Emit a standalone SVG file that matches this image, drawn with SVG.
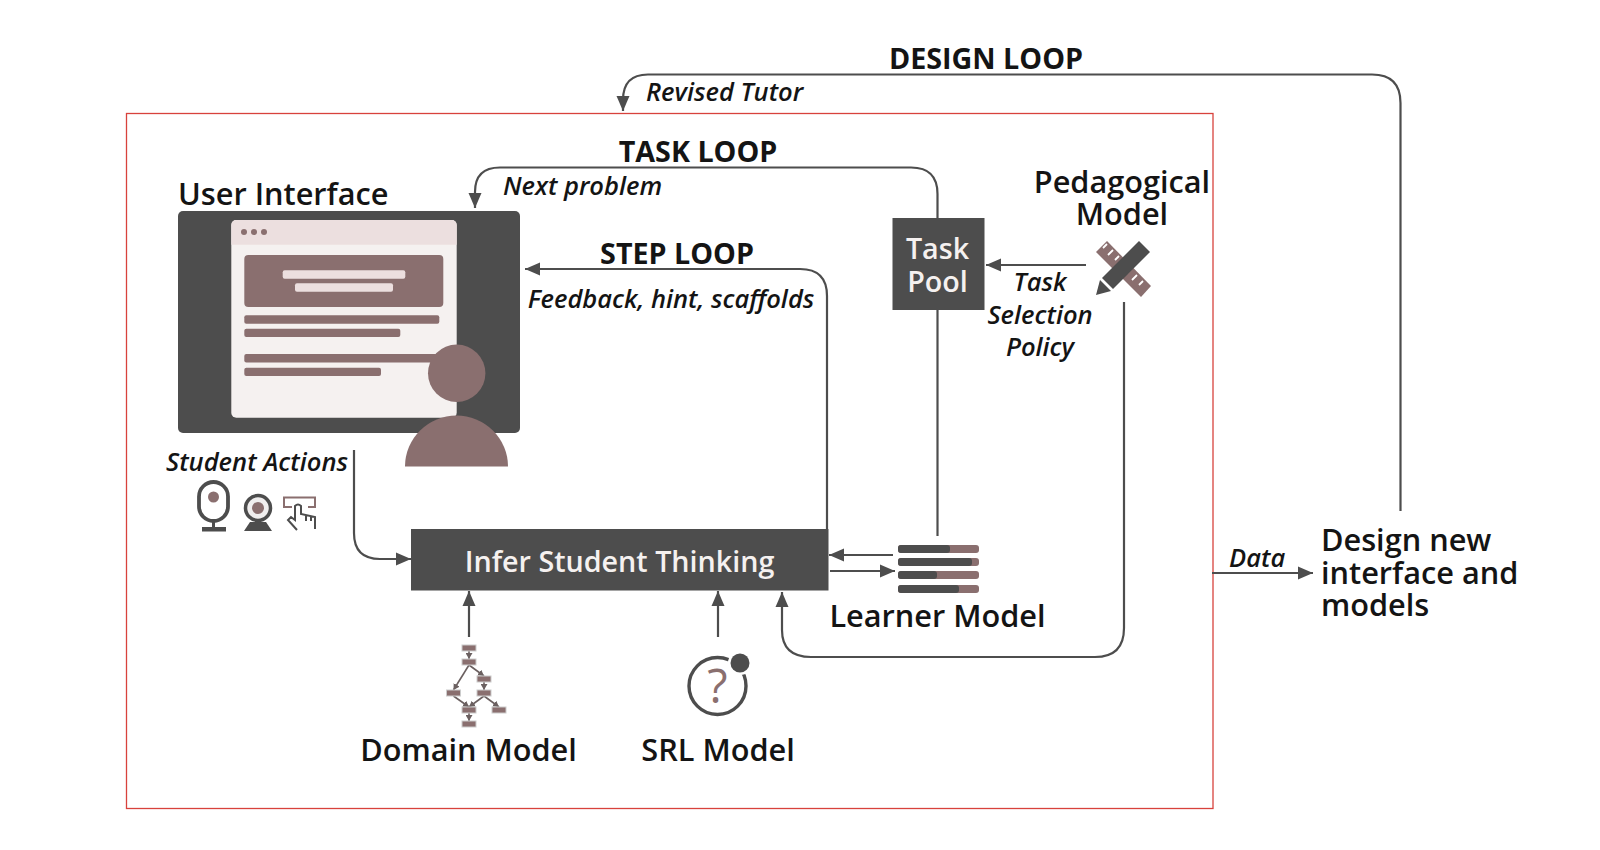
<svg xmlns="http://www.w3.org/2000/svg" width="1600" height="850" viewBox="0 0 1600 850">
<style>
text{font-family:"Open Sans","Noto Sans",sans-serif;fill:#141414}
.t{font-size:30.700px;font-weight:600}
.b{font-size:28.700px;font-weight:700}
.i{font-size:25.500px;font-style:italic;font-weight:600}
.w{font-size:28.700px;font-weight:600;fill:#f5f1f0}
.m{text-anchor:middle}
.c{fill:none;stroke:#4d4d4d;stroke-width:2.200}
.d{fill:#4d4d4d}
.p{fill:#8a6f6f}
.n{fill:#8a6f6f;stroke:#ccc;stroke-width:1}
.e{stroke:#6b6060;stroke-width:1.600;fill:none}
.k{stroke:#fff;stroke-width:1.800;fill:none}
</style>
<defs>
<marker id="a" markerUnits="userSpaceOnUse" markerWidth="16" markerHeight="16" refX="15" refY="8" orient="auto"><path d="M0 1.500L15 8L0 14.500Z" fill="#4d4d4d"/></marker>
<marker id="s" markerUnits="userSpaceOnUse" markerWidth="7" markerHeight="7" refX="6" refY="3.500" orient="auto"><path d="M0 0L6 3.500L0 7Z" fill="#6b6060"/></marker>
</defs>
<rect id="frame" x="126.500" y="113.500" width="1086.500" height="695" fill="none" stroke="#d8423c" stroke-width="1.300"/>
<g id="connectors">
<path class="c" marker-end="url(#a)" d="M1400.500 511V103Q1400.500 74.500 1372 74.500H648Q623 74.500 623 100V111"/>
<path class="c" marker-end="url(#a)" d="M937.500 218V194Q937.500 167.500 911 167.500H500Q475 167.500 475 192V208"/>
<path class="c" marker-end="url(#a)" d="M827 529V296Q827 269 800 269H525"/>
<path class="c" d="M937.500 310V536"/>
<path class="c" marker-end="url(#a)" d="M1086 265H986"/>
<path class="c" marker-end="url(#a)" d="M1124 302V628Q1124 657 1095 657H811Q782 657 782 630V592"/>
<path class="c" marker-end="url(#a)" d="M893 555H829"/>
<path class="c" marker-end="url(#a)" d="M830 571H895"/>
<path class="c" marker-end="url(#a)" d="M354 450V533Q354 559 380 559H411"/>
<path class="c" marker-end="url(#a)" d="M469 637V591"/>
<path class="c" marker-end="url(#a)" d="M718 637V591"/>
<path class="c" marker-end="url(#a)" d="M1212 573H1313"/>
</g>
<g id="labels">
<text class="b m" x="986" y="69">DESIGN LOOP</text>
<text class="i" x="646" y="101">Revised Tutor</text>
<text class="b m" x="698" y="162">TASK LOOP</text>
<text class="i" x="503" y="195">Next problem</text>
<text class="b m" x="677" y="264">STEP LOOP</text>
<text class="i m" x="671" y="307.500">Feedback, hint, scaffolds</text>
<text class="i m" x="1040" y="291">Task</text>
<text class="i m" x="1040" y="323.500">Selection</text>
<text class="i m" x="1040" y="356">Policy</text>
<text class="i" x="1229" y="566.500">Data</text>
</g>
<g id="user-interface">
<text class="t" x="178" y="205">User Interface</text>
<rect class="d" x="178" y="211" width="342" height="222" rx="5"/>
<rect x="231.300" y="220" width="225.400" height="197.700" rx="5" fill="#f5f1f0"/>
<path d="M231.300 244.700V225a5 5 0 0 1 5-5H451.700a5 5 0 0 1 5 5V244.700Z" fill="#ecdfdf"/>
<circle class="p" cx="244" cy="232" r="3"/><circle class="p" cx="254" cy="232" r="3"/><circle class="p" cx="264" cy="232" r="3"/>
<rect class="p" x="244.300" y="255" width="199" height="52" rx="4"/>
<rect x="282.700" y="270.300" width="122.600" height="8.400" rx="2" fill="#ecdfdf"/>
<rect x="295" y="283.300" width="98" height="8.400" rx="2" fill="#ecdfdf"/>
<rect class="p" x="244.300" y="315.300" width="195" height="8.400" rx="2"/>
<rect class="p" x="244.300" y="328.700" width="156" height="8.400" rx="2"/>
<rect class="p" x="244.300" y="354" width="200" height="8.400" rx="2"/>
<rect class="p" x="244.300" y="367.700" width="136.700" height="8.400" rx="2"/>
<circle class="p" cx="456.700" cy="373.300" r="28.700"/>
<path class="p" d="M405 466.500A51.500 51 0 0 1 508 466.500Z"/>
</g>
<g id="student-actions">
<text class="i" x="166" y="470.500">Student Actions</text>
<rect x="199" y="482" width="29" height="39" rx="14.500" fill="none" stroke="#4d4d4d" stroke-width="3.800"/>
<circle class="p" cx="213.500" cy="497" r="5.500"/>
<path d="M213.500 521V528" stroke="#4d4d4d" stroke-width="3" fill="none"/>
<rect class="d" x="202" y="527" width="24" height="4.500"/>
<circle cx="258" cy="508" r="12.500" fill="#f0eeee" stroke="#4d4d4d" stroke-width="3.500"/>
<circle class="p" cx="258" cy="508" r="6"/>
<path class="d" d="M250 522H266L272 531H244Z"/>
<path d="M292 507H284V497.500H315V507H308" fill="none" stroke="#8a6f6f" stroke-width="2"/>
<path d="M297 530L288 520L291 517L295 520V506Q298 503 301 506V514L315 517V529M306 515V521M311 516V521" fill="none" stroke="#4d4d4d" stroke-width="2"/>
</g>
<g id="infer">
<rect class="d" x="411" y="529" width="417.500" height="61.500"/>
<text class="w m" x="619.500" y="571.500">Infer Student Thinking</text>
</g>
<g id="task-pool">
<rect class="d" x="892.500" y="218" width="92" height="92"/>
<text class="w m" x="937.500" y="259">Task</text>
<text class="w m" x="937.500" y="292">Pool</text>
</g>
<g id="pedagogical-model">
<text class="t m" x="1122" y="193">Pedagogical</text>
<text class="t m" x="1122" y="225">Model</text>
<path class="p" d="M1096 252L1107 241L1151 286L1141 297Z"/>
<path class="k" d="M1107 244L1103 248M1113 250L1108 255M1119 256L1115 260M1131 269L1127 273M1137 275L1132 280M1143 281L1139 285"/>
<path class="d" d="M1139 241L1150 252L1113 289L1102 278Z"/>
<path class="d" d="M1100 280L1111 291L1096 295Z"/>
</g>
<g id="learner-model">
<g class="p"><rect x="898" y="545" width="81" height="8" rx="3"/><rect x="898" y="558" width="81" height="8" rx="3"/><rect x="898" y="571" width="81" height="8" rx="3"/><rect x="898" y="585" width="81" height="8" rx="3"/></g>
<g class="d"><rect x="898" y="545" width="52" height="8" rx="3"/><rect x="898" y="558" width="74" height="8" rx="3"/><rect x="898" y="571" width="39" height="8" rx="3"/><rect x="898" y="585" width="61" height="8" rx="3"/></g>
<text class="t m" x="937.500" y="627">Learner Model</text>
</g>
<g id="domain-model">
<path class="e" marker-end="url(#s)" d="M469 651V659"/>
<path class="e" marker-end="url(#s)" d="M469 665L484 676"/>
<path class="e" marker-end="url(#s)" d="M469 665L453.500 690"/>
<path class="e" marker-end="url(#s)" d="M484 682V690"/>
<path class="e" marker-end="url(#s)" d="M453.500 696L469 707"/>
<path class="e" marker-end="url(#s)" d="M484 696L469 707"/>
<path class="e" marker-end="url(#s)" d="M484 696L499 707"/>
<path class="e" marker-end="url(#s)" d="M469 713V721"/>
<rect class="n" x="462" y="645" width="14" height="6"/>
<rect class="n" x="462" y="659" width="14" height="6"/>
<rect class="n" x="477" y="676" width="14" height="6"/>
<rect class="n" x="446.500" y="690" width="14" height="6"/>
<rect class="n" x="477" y="690" width="14" height="6"/>
<rect class="n" x="462" y="707" width="14" height="6"/>
<rect class="n" x="492" y="707" width="14" height="6"/>
<rect class="n" x="462" y="721" width="14" height="6"/>
<text class="t m" x="468.500" y="761">Domain Model</text>
</g>
<g id="srl-model">
<circle cx="717.500" cy="686" r="28.500" fill="none" stroke="#4d4d4d" stroke-width="3.400"/>
<circle cx="740" cy="663" r="9.500" fill="#4d4d4d" stroke="#fff" stroke-width="5" paint-order="stroke"/>
<text class="m" x="717.500" y="703" style="font-size:47px;font-weight:500;fill:#8a6f6f">?</text>
<text class="t m" x="718" y="761">SRL Model</text>
</g>
<g id="design-new">
<text class="t" x="1321" y="551">Design new</text>
<text class="t" x="1321" y="584">interface and</text>
<text class="t" x="1321" y="616">models</text>
</g>
</svg>
